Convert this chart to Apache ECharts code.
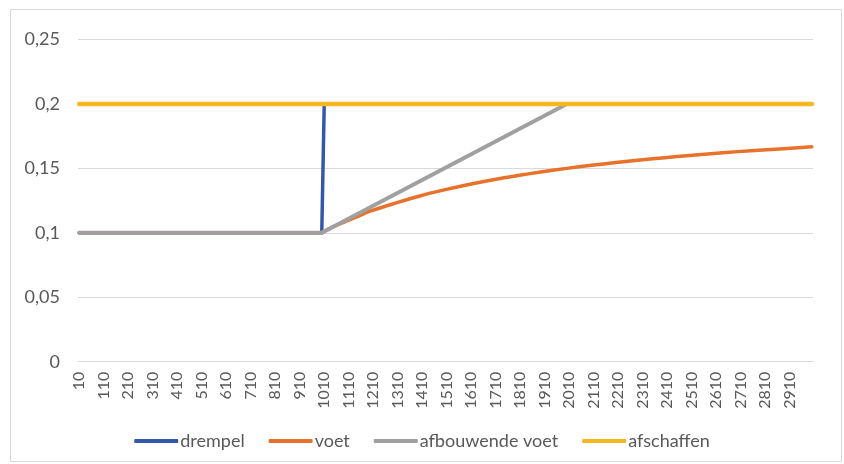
<!DOCTYPE html>
<html>
<head>
<meta charset="utf-8">
<script src="https://cdn.jsdelivr.net/npm/echarts@6/dist/echarts.min.js"></script>
<style>
html,body{margin:0;padding:0;background:#fff;}
#c{width:844px;height:464px;}
</style>
</head>
<body>
<div id="c"></div>
<script>
// x categories (inkomen): 10 .. 3000 in steps of 10
var categories = [
10,20,30,40,50,60,70,80,90,100,110,120,130,140,150,160,170,180,190,200,
210,220,230,240,250,260,270,280,290,300,310,320,330,340,350,360,370,380,390,400,
410,420,430,440,450,460,470,480,490,500,510,520,530,540,550,560,570,580,590,600,
610,620,630,640,650,660,670,680,690,700,710,720,730,740,750,760,770,780,790,800,
810,820,830,840,850,860,870,880,890,900,910,920,930,940,950,960,970,980,990,1000,
1010,1020,1030,1040,1050,1060,1070,1080,1090,1100,1110,1120,1130,1140,1150,1160,1170,1180,1190,1200,
1210,1220,1230,1240,1250,1260,1270,1280,1290,1300,1310,1320,1330,1340,1350,1360,1370,1380,1390,1400,
1410,1420,1430,1440,1450,1460,1470,1480,1490,1500,1510,1520,1530,1540,1550,1560,1570,1580,1590,1600,
1610,1620,1630,1640,1650,1660,1670,1680,1690,1700,1710,1720,1730,1740,1750,1760,1770,1780,1790,1800,
1810,1820,1830,1840,1850,1860,1870,1880,1890,1900,1910,1920,1930,1940,1950,1960,1970,1980,1990,2000,
2010,2020,2030,2040,2050,2060,2070,2080,2090,2100,2110,2120,2130,2140,2150,2160,2170,2180,2190,2200,
2210,2220,2230,2240,2250,2260,2270,2280,2290,2300,2310,2320,2330,2340,2350,2360,2370,2380,2390,2400,
2410,2420,2430,2440,2450,2460,2470,2480,2490,2500,2510,2520,2530,2540,2550,2560,2570,2580,2590,2600,
2610,2620,2630,2640,2650,2660,2670,2680,2690,2700,2710,2720,2730,2740,2750,2760,2770,2780,2790,2800,
2810,2820,2830,2840,2850,2860,2870,2880,2890,2900,2910,2920,2930,2940,2950,2960,2970,2980,2990,3000
].map(String);

var seriesNames = ['drempel', 'voet', 'afbouwende voet', 'afschaffen'];

// [category, value] points
var drempel = [['10',0.1],['1000',0.1],['1010',0.2],['3000',0.2]];
var voetHead = [['10',0.1],['1000',0.1]];
var voetCurve = [
['1000',0.1],['1050',0.105],['1100',0.109],['1150',0.113],['1200',0.117],
['1300',0.123],['1400',0.1286],['1500',0.1333],['1600',0.1375],['1700',0.1412],
['1800',0.1444],['1900',0.1474],['2000',0.15],['2100',0.1524],['2200',0.1545],
['2300',0.1565],['2400',0.1583],['2500',0.16],['2600',0.1615],['2700',0.163],
['2800',0.1643],['2900',0.1655],['3000',0.1667]
];
var afbouwendeVoet = [['10',0.1],['1000',0.1],['2000',0.2],['3000',0.2]];
var afschaffen = [['10',0.2],['3000',0.2]];

var yTicks = [0, 0.05, 0.1, 0.15, 0.2, 0.25];

var colors = ['#3358A8', '#E8712C', '#A0A0A0', '#F4B622'];
var textColor = '#595959';

var chart = echarts.init(document.getElementById('c'), null, {renderer: 'canvas'});

function mk(name, data, color, width, smooth) {
  return {
    name: name, type: 'line', data: data, showSymbol: false, symbol: 'none',
    smooth: smooth || false,
    lineStyle: {color: color, width: width, cap: 'round', join: 'round'},
    itemStyle: {color: color}, animation: false, silent: true
  };
}

chart.setOption({
  animation: false,
  color: colors,
  graphic: [{
    type: 'rect', silent: true,
    shape: {x: 10.5, y: 9.5, width: 831, height: 452},
    style: {fill: 'none', stroke: '#d9d9d9', lineWidth: 1}
  }],
  grid: {left: 78, right: 31, top: 39.5, bottom: 102.3, containLabel: false},
  xAxis: {
    type: 'category',
    data: categories,
    boundaryGap: true,
    axisLine: {show: true, lineStyle: {color: '#d9d9d9', width: 1}},
    axisTick: {show: false},
    axisLabel: {
      interval: 9, rotate: 90, margin: 10,
      color: textColor, fontFamily: 'Lato', fontSize: 16
    },
    splitLine: {show: false}
  },
  yAxis: {
    type: 'value',
    min: yTicks[0], max: yTicks[yTicks.length - 1], interval: 0.05,
    axisLine: {show: false},
    axisTick: {show: false},
    axisLabel: {
      margin: 18, color: textColor, fontFamily: 'Lato', fontSize: 18,
      formatter: function (v) { return String(+v.toFixed(2)).replace('.', ','); }
    },
    splitLine: {lineStyle: {color: '#d9d9d9', width: 1}}
  },
  legend: {
    data: seriesNames,
    top: 427,
    left: 'center',
    icon: 'roundRect',
    itemWidth: 44,
    itemHeight: 4,
    itemGap: 24,
    textStyle: {color: textColor, fontFamily: 'Lato', fontSize: 18, padding: [0, 0, 0, -3]}
  },
  series: [
    mk(seriesNames[0], drempel, colors[0], 3.5),
    mk(seriesNames[1], voetHead, colors[1], 3.5),
    mk(seriesNames[1], voetCurve, colors[1], 3.5, 0.3),
    mk(seriesNames[2], afbouwendeVoet, colors[2], 4),
    mk(seriesNames[3], afschaffen, colors[3], 4.5)
  ]
});
</script>
</body>
</html>
